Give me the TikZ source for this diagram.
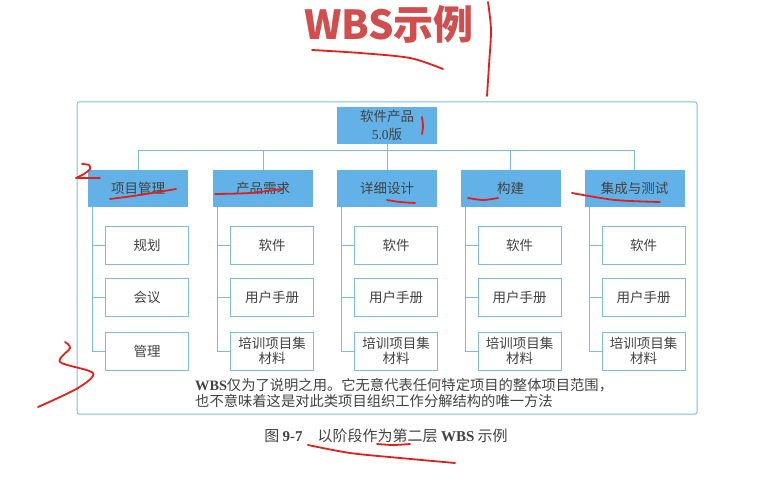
\documentclass[tikz,border=0pt]{standalone}
\usepackage{fontspec}
\setmainfont{Liberation Serif}
\newfontfamily\cjk{Noto Sans CJK SC}
\usetikzlibrary{positioning}

\definecolor{wbsblue}{RGB}{98,178,232}
\definecolor{wbsline}{RGB}{125,188,226}
\definecolor{wbstext}{RGB}{66,66,66}
\definecolor{penred}{RGB}{226,32,26}
\definecolor{titlered}{RGB}{208,78,78}

\begin{document}
\begin{tikzpicture}[x=1pt,y=-1pt,
    phase/.style={fill=wbsblue, minimum width=100pt, minimum height=37pt, inner sep=0pt,
      align=center, text=wbstext, font=\cjk\fontsize{13.5}{15}\selectfont},
    item/.style={draw=wbsline, line width=1pt, fill=white, minimum width=83pt, minimum height=38pt,
      inner sep=0pt, align=center, text=wbstext, font=\cjk\fontsize{13.5}{15.5}\selectfont},
    link/.style={draw=wbsline, line width=1pt},
    pen/.style={penred, line width=1.8pt, line cap=round, line join=round}]
                \useasboundingbox[fill=white] (0,0) rectangle (765,481);

                % Title
                \node[text=titlered, font=\cjk\bfseries\fontsize{40}{44}\selectfont] (title) at (389,24) {WBS示例};

                % Frame
                \draw[link, rounded corners=2pt] (77,102) rectangle (697,414);

                % Top level
                \node[phase] (root) at (387,125.5) {软件产品\\[3pt]{\rmfamily 5.0}版};
                \coordinate (bus) at (387,151);

                % Phases
                \node[phase] (pm) at (138,188.5) {项目管理};
                \node[phase] (req) at (263,188.5) {产品需求};
                \node[phase] (des) at (387,188.5) {详细设计};
                \node[phase] (bld) at (510.5,188.5) {构建};
                \node[phase] (tst) at (634.5,188.5) {集成与测试};

                % Connectors from the root
                \draw[link] (root.south) -- (bus);
                \draw[link] (pm.north) |- (bus);
                \draw[link] (bus) -| (tst.north);
                \draw[link] (req.north) -- (req.north |- bus);
                \draw[link] (des.north) -- (des.north |- bus);
                \draw[link] (bld.north) -- (bld.north |- bus);

                % Work packages under project management
                \node[item] (pm1) at (147,245) {规划};
                \node[item] (pm2) at (147,297) {会议};
                \node[item] (pm3) at (147,351) {管理};

                % Work packages under requirements
                \node[item] (req1) at (272,245) {软件};
                \node[item] (req2) at (272,297) {用户手册};
                \node[item] (req3) at (272,351) {培训项目集\\材料};

                % Work packages under design
                \node[item] (des1) at (396,245) {软件};
                \node[item] (des2) at (396,297) {用户手册};
                \node[item] (des3) at (396,351) {培训项目集\\材料};

                % Work packages under build
                \node[item] (bld1) at (519.5,245) {软件};
                \node[item] (bld2) at (519.5,297) {用户手册};
                \node[item] (bld3) at (519.5,351) {培训项目集\\材料};

                % Work packages under integration and test
                \node[item] (tst1) at (643.5,245) {软件};
                \node[item] (tst2) at (643.5,297) {用户手册};
                \node[item] (tst3) at (643.5,351) {培训项目集\\材料};

                % Spines and ticks
                \draw[link] ([xshift=5pt]pm.south west) |- (pm3.west);
                \draw[link] ([xshift=5pt]pm.south west |- pm1.west) -- (pm1.west);
                \draw[link] ([xshift=5pt]pm.south west |- pm2.west) -- (pm2.west);
                \draw[link] ([xshift=5pt]req.south west) |- (req3.west);
                \draw[link] ([xshift=5pt]req.south west |- req1.west) -- (req1.west);
                \draw[link] ([xshift=5pt]req.south west |- req2.west) -- (req2.west);
                \draw[link] ([xshift=5pt]des.south west) |- (des3.west);
                \draw[link] ([xshift=5pt]des.south west |- des1.west) -- (des1.west);
                \draw[link] ([xshift=5pt]des.south west |- des2.west) -- (des2.west);
                \draw[link] ([xshift=5pt]bld.south west) |- (bld3.west);
                \draw[link] ([xshift=5pt]bld.south west |- bld1.west) -- (bld1.west);
                \draw[link] ([xshift=5pt]bld.south west |- bld2.west) -- (bld2.west);
                \draw[link] ([xshift=5pt]tst.south west) |- (tst3.west);
                \draw[link] ([xshift=5pt]tst.south west |- tst1.west) -- (tst1.west);
                \draw[link] ([xshift=5pt]tst.south west |- tst2.west) -- (tst2.west);

                % Note and caption
                \node[anchor=north west, align=left, inner sep=0pt, text=wbstext,
                  font=\cjk\fontsize{14.3}{16}\selectfont] (note) at (195,378)
                  {{\rmfamily\bfseries WBS}仅为了说明之用。它无意代表任何特定项目的整体项目范围，\\
                   也不意味着这是对此类项目组织工作分解结构的唯一方法};
                \node[text=wbstext, font=\cjk\fontsize{15}{17}\selectfont] (caption) at (386,436)
                  {图 {\rmfamily\bfseries 9-7}\hspace{1em}以阶段作为第二层 {\rmfamily\bfseries WBS} 示例};

                % Pen marks
                \draw[pen] plot[smooth] coordinates {(312,50) (360,53) (410,58) (443,69)};
                \draw[pen] plot[smooth] coordinates {(488,2) (491,30) (489,65) (487,96)};
                \draw[pen] plot[smooth] coordinates {(422,117) (423,126) (422,134)};
                \draw[pen] plot[smooth] coordinates {(82,164) (89,165) (90,169) (84,174) (76,178)} -- (100,178);
                \draw[pen] plot[smooth] coordinates {(110,199) (140,195) (176,189)};
                \draw[pen] plot[smooth] coordinates {(215,194) (250,193) (282,189)};
                \draw[pen] plot[smooth] coordinates {(387,200) (400,202) (415,203)};
                \draw[pen] plot[smooth] coordinates {(468,198) (483,200) (498,198)};
                \draw[pen] plot[smooth] coordinates {(572,193) (615,200) (660,202)};
                \draw[pen] plot[smooth] coordinates {(65,342) (70,348) (60,362) (93,373) (78,388) (38,407)};
                \draw[pen] plot[smooth] coordinates {(377,444) (393,445) (410,444)};
                \draw[pen] plot[smooth] coordinates {(308,445) (350,453) (400,458) (455,463)};
            \end{tikzpicture}
\end{document}
